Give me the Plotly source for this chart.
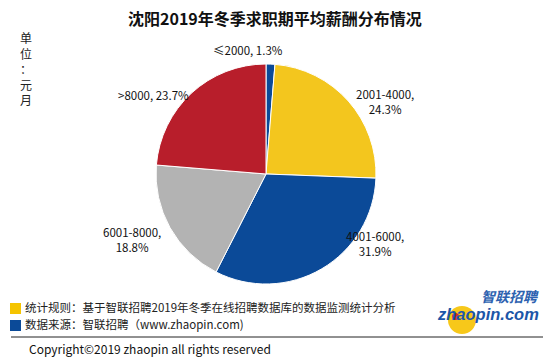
import plotly.graph_objects as go

# ---- data ----
categories = ["≤2000", "2001-4000", "4001-6000", "6001-8000", ">8000"]
values = [1.3, 24.3, 31.9, 18.8, 23.7]
slice_colors = ["#0b4a98", "#f3c61e", "#0b4a98", "#b3b3b3", "#b81e2b"]
label_breaks = [False, True, True, True, False]
# label anchor positions in paper coords (x, y)
label_pos = [(248/554, 1-50/363), (385/554, 1-102/363), (375/554, 1-243/363),
             (132/554, 1-239/363), (153/554, 1-95/363)]

title = "沈阳2019年冬季求职期平均薪酬分布情况"
unit_chars = ["单", "位", "：", "元", "月"]
note_lines = ["统计规则：基于智联招聘2019年冬季在线招聘数据库的数据监测统计分析",
              "数据来源：智联招聘（www.zhaopin.com)"]
note_colors = ["#f5c400", "#0b4a98"]
copyright_text = "Copyright©2019 zhaopin all rights reserved"

W, H = 554, 363
FONT = "Noto Sans CJK SC"

fig = go.Figure()
fig.add_trace(go.Pie(
    labels=categories, values=values, sort=False, direction="clockwise",
    rotation=0, marker=dict(colors=slice_colors, line=dict(color="white", width=1)),
    textinfo="none", hoverinfo="label+percent", showlegend=False,
    domain=dict(x=[156/W, 376/W], y=[1-284/H, 1-64/H]),
))

ann = []
for cat, val, br, (px, py) in zip(categories, values, label_breaks, label_pos):
    sep = ",<br>" if br else ", "
    ann.append(dict(x=px, y=py, xref="paper", yref="paper", text=f"{cat}{sep}{val}%",
                    showarrow=False, xanchor="center", yanchor="middle",
                    font=dict(family=FONT, size=11.5, color="#111")))

ann.append(dict(x=275/W, y=1-18/H, xref="paper", yref="paper", text=f"<b>{title}</b>",
                showarrow=False, xanchor="center", yanchor="middle",
                font=dict(family=FONT, size=16, color="#111")))

ann.append(dict(x=26/W, y=1-27/H, xref="paper", yref="paper", text="<br>".join(unit_chars),
                showarrow=False, xanchor="center", yanchor="top",
                font=dict(family=FONT, size=12, color="#222")))

note_y = [307, 324]
shapes = []
for txt, col, yy in zip(note_lines, note_colors, note_y):
    ann.append(dict(x=23/W, y=1-yy/H, xref="paper", yref="paper", text=txt,
                    showarrow=False, xanchor="left", yanchor="middle",
                    font=dict(family=FONT, size=11.5, color="#222")))
    shapes.append(dict(type="rect", xref="paper", yref="paper",
                       x0=10/W, x1=21/W, y0=1-(yy-4)/H, y1=1-(yy+7)/H,
                       fillcolor=col, line=dict(width=0)))

shapes.append(dict(type="line", xref="paper", yref="paper", x0=11/W, x1=543/W,
                   y0=1-337/H, y1=1-337/H, line=dict(color="#222", width=1)))

# logo
shapes.append(dict(type="circle", xref="paper", yref="paper", x0=448/W, x1=476/W,
                   y0=1-334/H, y1=1-306/H, fillcolor="#f7c81a", line=dict(width=0),
                   layer="below"))
ann.append(dict(x=540/W, y=1-295.5/H, xref="paper", yref="paper", text="<b><i>智联招聘</i></b>",
                showarrow=False, xanchor="right", yanchor="middle", borderpad=0,
                font=dict(family=FONT, size=14, color="#2d62b0")))
ann.append(dict(x=540/W, y=1-314/H, xref="paper", yref="paper", text="<b><i>zhaopin.com</i></b>",
                showarrow=False, xanchor="right", yanchor="middle", borderpad=0,
                font=dict(family="Liberation Sans", size=16.5, color="#1c56a8")))
shapes.append(dict(type="circle", xref="paper", yref="paper", x0=452/W, x1=459/W,
                   y0=1-320/H, y1=1-313/H, fillcolor="#d9261c", line=dict(width=0)))

ann.append(dict(x=27/W, y=1-348/H, xref="paper", yref="paper", text=copyright_text,
                showarrow=False, xanchor="left", yanchor="middle",
                font=dict(family=FONT, size=12, color="#111")))

fig.update_layout(width=W, height=H, margin=dict(l=0, r=0, t=0, b=0),
                  paper_bgcolor="white", plot_bgcolor="white",
                  annotations=ann, shapes=shapes)
fig.write_html("out.html", config={"displayModeBar": False},
               post_script="document.body.style.margin='0';document.body.style.overflow='hidden';")
